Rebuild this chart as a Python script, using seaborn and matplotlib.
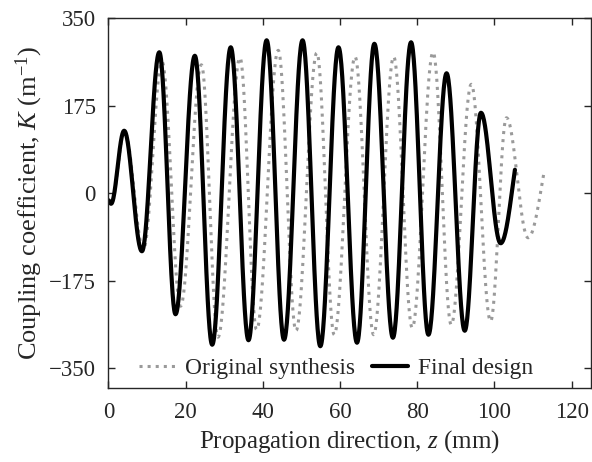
import numpy as np
import pandas as pd
import matplotlib
matplotlib.use('Agg')
import matplotlib.pyplot as plt
import seaborn as sns

# extrema (peaks / troughs), plus start and end points
final_z = [0.0, 0.7, 4.1, 8.7, 13.2, 17.4, 22.4, 26.9, 31.7, 36.3, 41.0, 45.5,
           50.3, 54.9, 59.6, 64.4, 68.9, 73.7, 78.4, 82.9, 87.6, 92.3, 96.5,
           101.6, 105.3]
final_k = [-14, -21, 125, -116, 282, -242, 275, -303, 292, -294, 306, -293,
           306, -306, 292, -299, 299, -289, 302, -283, 240, -275, 161,
           -100, 47]

orig_z = [0.0, 0.7, 4.2, 9.1, 13.9, 18.7, 24.1, 28.4, 34.1, 38.4, 44.0, 48.6,
          54.0, 58.5, 63.9, 68.7, 73.9, 78.7, 84.1, 88.8, 94.0, 99.0, 103.1,
          108.7, 112.9]
orig_k = [-14, -21, 123, -112, 263, -226, 257, -288, 271, -273, 286, -275,
          281, -283, 273, -283, 273, -269, 282, -263, 218, -256, 151,
          -89, 45]

x_ticks = [0, 20, 40, 60, 80, 100, 120]
y_ticks = [-350, -175, 0, 175, 350]


def smooth_trace(zs, ks, n=40):
    # half-cosine shape between consecutive extrema, last piece ends mid-rise
    out_z, out_k = [zs[0]], [ks[0]]
    for i in range(len(zs) - 1):
        t = np.linspace(0, 1, n)[1:]
        if i == len(zs) - 2:
            a = 0.6 * np.pi
            s = (1 - np.cos(a * t)) / (1 - np.cos(a))
        else:
            s = (1 - np.cos(np.pi * t)) / 2
        out_z.extend(zs[i] + (zs[i + 1] - zs[i]) * t)
        out_k.extend(ks[i] + (ks[i + 1] - ks[i]) * s)
    return np.array(out_z), np.array(out_k)


oz, ok = smooth_trace(orig_z, orig_k)
fz, fk = smooth_trace(final_z, final_k)
df_orig = pd.DataFrame({'z': oz, 'K': ok})
df_final = pd.DataFrame({'z': fz, 'K': fk})

sns.set_style('ticks')
plt.rcParams['font.family'] = ['Liberation Serif', 'DejaVu Serif']
plt.rcParams['mathtext.fontset'] = 'custom'
plt.rcParams['mathtext.rm'] = 'Liberation Serif'
plt.rcParams['mathtext.it'] = 'Liberation Serif:italic'

fig = plt.figure(figsize=(5.92, 4.62), dpi=100)
ax = fig.add_axes([0.1830, 0.1608, 0.8153, 0.7996])

sns.lineplot(data=df_orig, x='z', y='K', ax=ax, color='#9a9a9a', lw=2.2,
             linestyle=':', label='Original synthesis', estimator=None, sort=False)
sns.lineplot(data=df_final, x='z', y='K', ax=ax, color='black', lw=3,
             label='Final design', estimator=None, sort=False)

ax.set_xlim(0, 125)
ax.set_ylim(-389, 350)
ax.set_xticks(x_ticks)
ax.set_yticks(y_ticks)
ax.tick_params(direction='in', top=True, right=True, length=5, width=1,
               labelsize=16.5, color='#262626')
ax.tick_params(axis='x', pad=10)
ax.tick_params(axis='y', pad=9)
for sp in ax.spines.values():
    sp.set_linewidth(1)
    sp.set_color('#262626')
    sp.set_visible(True)

ax.set_xlabel('Propagation direction, $z$ (mm)', fontsize=18, labelpad=4)
ax.set_ylabel('Coupling coefficient, $K$ (m$^{-1}$)', fontsize=19, labelpad=3)

ax.legend(loc='center', bbox_to_anchor=(0.4715, 0.053), ncol=2, frameon=False,
          fontsize=16.8, handlelength=1.55, handletextpad=0.45, columnspacing=0.7,
          borderpad=0.0, borderaxespad=0.0)

fig.savefig('out.png', dpi=100)
